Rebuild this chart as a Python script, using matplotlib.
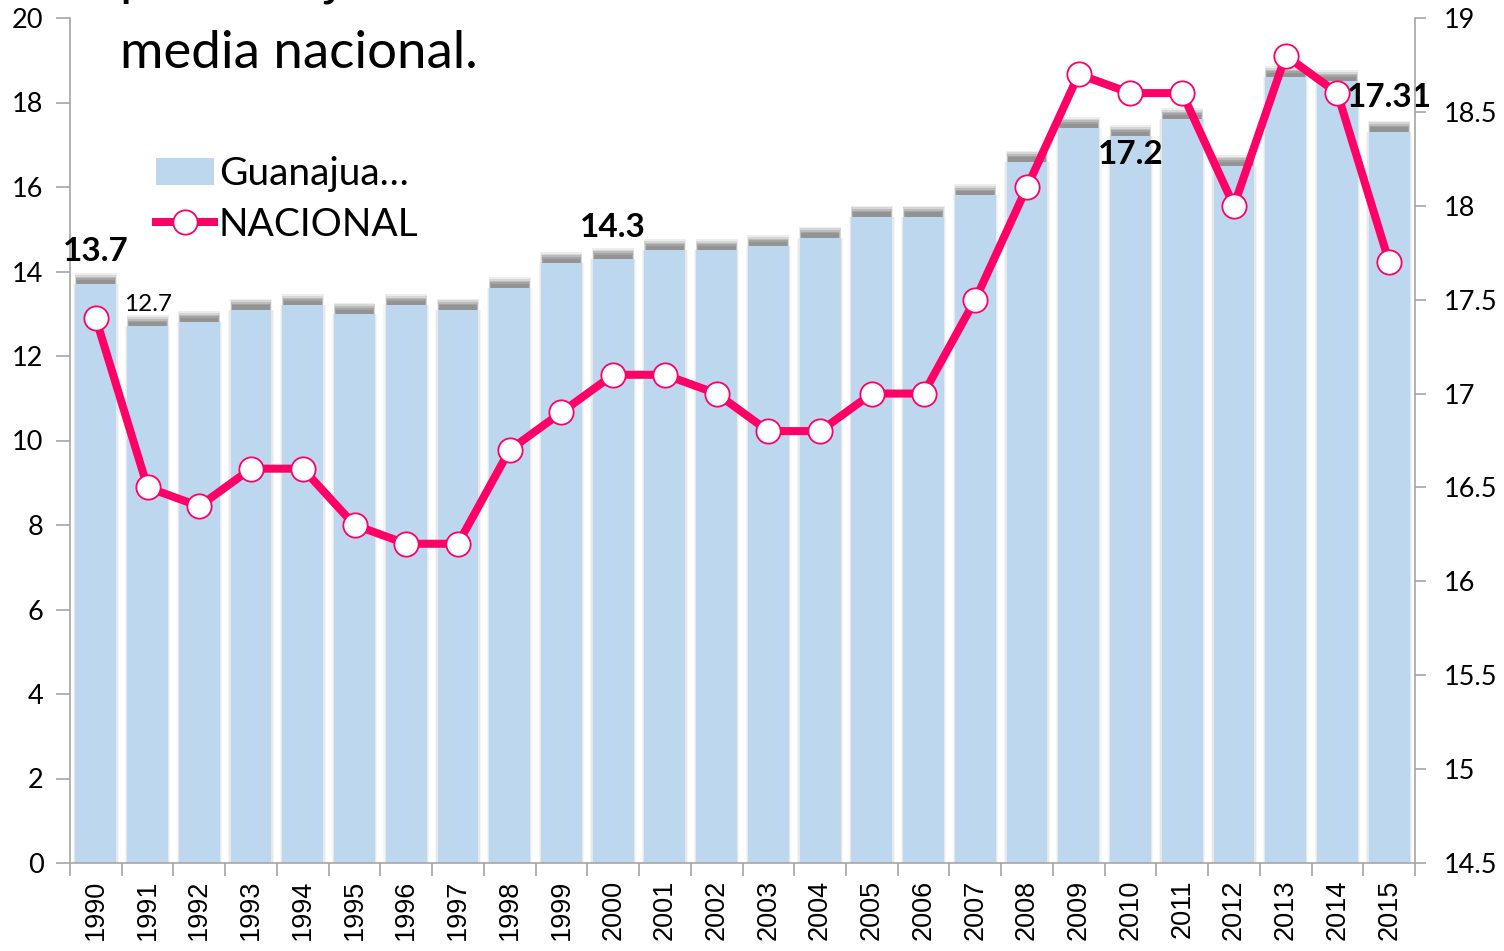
import matplotlib
matplotlib.use("Agg")
import matplotlib.pyplot as plt
from matplotlib.patches import Patch
from matplotlib.lines import Line2D
import numpy as np

plt.rcParams['font.family'] = ['Lato', 'DejaVu Sans']

years = [str(y) for y in range(1990, 2016)]
guanajuato = [13.7, 12.7, 12.8, 13.1, 13.2, 13.0, 13.2, 13.1, 13.6, 14.2,
              14.3, 14.5, 14.5, 14.6, 14.8, 15.3, 15.3, 15.8, 16.6, 17.4,
              17.2, 17.6, 16.5, 18.6, 18.5, 17.31]
nacional = [17.4, 16.5, 16.4, 16.6, 16.6, 16.3, 16.2, 16.2, 16.7, 16.9,
            17.1, 17.1, 17.0, 16.8, 16.8, 17.0, 17.0, 17.5, 18.1, 18.7,
            18.6, 18.6, 18.0, 18.8, 18.6, 17.7]
# etiquetas de valor: (indice, texto, negrita, desplazamiento vertical en pt)
labels = [(0, "13.7", True, 13), (1, "12.7", False, 8), (10, "14.3", True, 12),
          (20, "17.2", True, -3), (25, "17.31", True, 14)]

bar_color = "#BDD7EE"
line_color = "#FF0066"
axis_gray = "#A6A6A6"

fig = plt.figure(figsize=(15.04, 9.51), dpi=100)
ax = fig.add_axes([70 / 1504, 88 / 951, 1345 / 1504, 845 / 951])
x = np.arange(len(years))

# sombra difusa alrededor de las barras
for w, a in [(0.88, 0.07), (0.84, 0.10)]:
    ax.bar(x, guanajuato, width=w, color="#7f7f7f", alpha=a, linewidth=0, zorder=1)
# banda gris difuminada sobre cada barra
for h, w, a in [(0.26, 0.81, 0.12), (0.22, 0.79, 0.18), (0.18, 0.77, 0.25),
                (0.14, 0.75, 0.3), (0.10, 0.73, 0.3)]:
    ax.bar(x, [h] * len(x), bottom=guanajuato, width=w, color="#6e6e6e",
           alpha=a, linewidth=0, zorder=1)
ax.bar(x, guanajuato, width=0.79, color=bar_color, linewidth=0, zorder=2)

ax.set_xlim(-0.5, len(x) - 0.5)
ax.set_ylim(0, 20)
ax.set_yticks(range(0, 21, 2))
ax.set_xticks(x)
ax.set_xticklabels(years, rotation=90, fontsize=19.5, family=['Liberation Sans', 'DejaVu Sans'])
ax.set_xticks(np.arange(-0.5, len(x), 1), minor=True)
ax.tick_params(axis='x', which='major', length=0, pad=12)
ax.tick_params(axis='x', which='minor', length=9, color=axis_gray, width=1.2)
ax.tick_params(axis='y', length=10, color=axis_gray, width=1.2, labelsize=19.5, pad=9)
for s in ["top", "right"]:
    ax.spines[s].set_visible(False)
for s in ["left", "bottom"]:
    ax.spines[s].set_color(axis_gray)
    ax.spines[s].set_linewidth(1.2)

for i, txt, bold, dy in labels:
    ax.annotate(txt, (x[i], guanajuato[i]), xytext=(0, dy), textcoords="offset points",
                ha="center", va="bottom" if dy > 0 else "top",
                fontsize=24 if bold else 17.5, fontweight="bold" if bold else "normal",
                zorder=5)

ax2 = ax.twinx()
ax2.plot(x, nacional, color=line_color, linewidth=5.8, marker="o", markersize=17.5,
         markerfacecolor="white", markeredgecolor=line_color, markeredgewidth=1.3,
         zorder=4, clip_on=False)
ax2.set_ylim(14.5, 19)
ax2.set_yticks(np.arange(14.5, 19.01, 0.5))
ax2.set_yticklabels(["%g" % v for v in np.arange(14.5, 19.01, 0.5)])
ax2.tick_params(axis='y', length=8, color=axis_gray, width=1.2, labelsize=19.5, pad=13)
for s in ["top", "left", "bottom"]:
    ax2.spines[s].set_visible(False)
ax2.spines["right"].set_color(axis_gray)
ax2.spines["right"].set_linewidth(1.2)

handles = [Patch(facecolor=bar_color, edgecolor="none"),
           Line2D([], [], color=line_color, linewidth=5.8, marker="o", markersize=17.5,
                  markerfacecolor="white", markeredgecolor=line_color, markeredgewidth=1.3)]
fig.legend(handles, ["Guanajua…", "NACIONAL"], loc="upper left",
           bbox_to_anchor=(156 / 1504, 1 - 156 / 951), frameon=False, fontsize=28,
           handlelength=1.5, handleheight=0.7, handletextpad=0.12, labelspacing=0.38,
           borderpad=0, borderaxespad=0)

# titulo, la primera linea queda cortada por el borde superior
fig.text(120 / 1504, 1 + 5 / 951, "por debajo de la", fontsize=38, va="baseline", ha="left")
fig.text(120 / 1504, 1 - 68 / 951, "media nacional.", fontsize=38, va="baseline", ha="left")

fig.savefig("out.png", dpi=100)
